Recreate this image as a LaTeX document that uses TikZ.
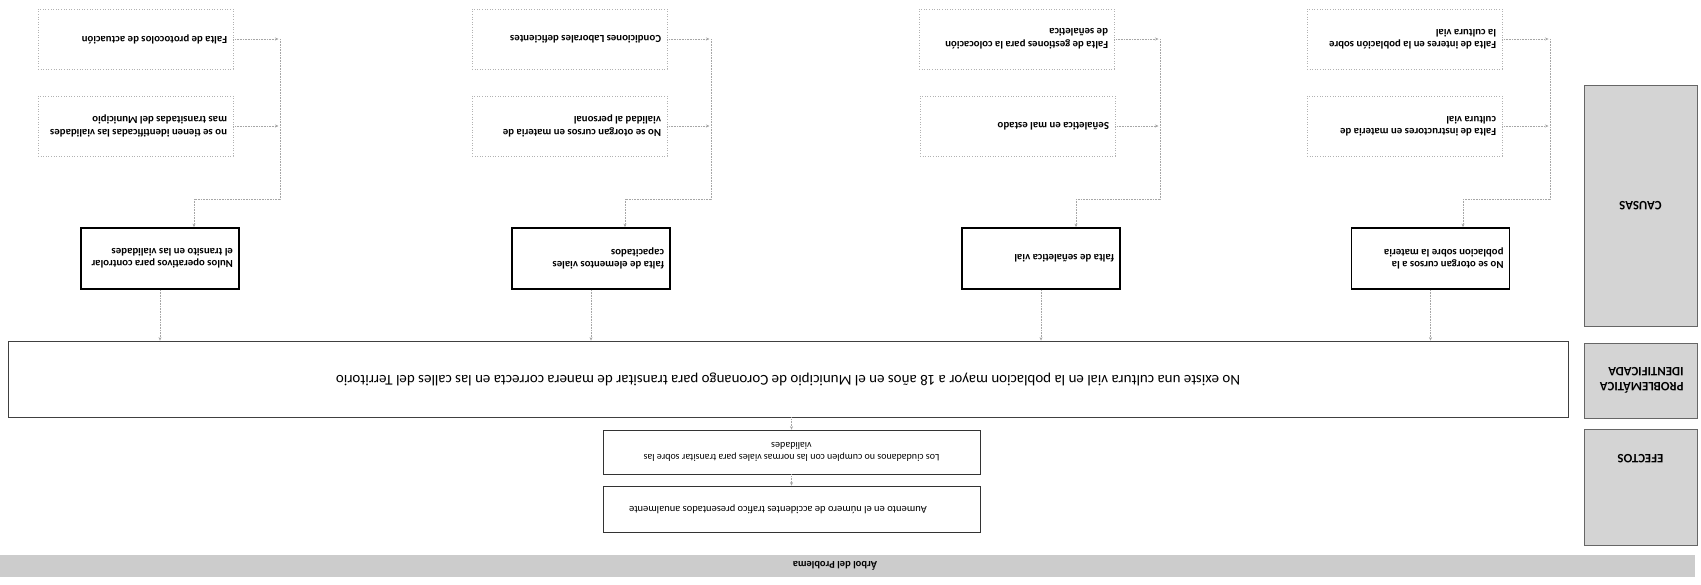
\documentclass[tikz,border=0pt]{standalone}
\usepackage{fontspec}
\setmainfont{Carlito}
\usetikzlibrary{arrows.meta}
\newcommand{\rtxt}[2]{\rotatebox[origin=c]{180}{\parbox{#1}{\raggedright #2}}}
\newcommand{\rone}[1]{\rotatebox[origin=c]{180}{#1}}
\begin{document}
\begin{tikzpicture}[x=1pt,y=-1pt,
  subbox/.style={draw=gray!60, dotted, line width=0.6pt, minimum width=195pt, minimum height=60pt, inner sep=0pt,
    font=\fontsize{10.8}{12.5}\selectfont\bfseries},
  causebox/.style={draw=black, line width=1.8pt, minimum width=158pt, minimum height=61pt, inner sep=0pt,
    font=\fontsize{10.8}{12}\selectfont\bfseries},
  probbox/.style={draw=black!75, line width=0.8pt, minimum width=1560pt, minimum height=76pt, inner sep=0pt,
    font=\fontsize{15}{16.5}\selectfont},
  effbox/.style={draw=black!80, line width=0.7pt, minimum width=377pt, inner sep=0pt,
    font=\fontsize{10}{12}\selectfont},
  labelbox/.style={draw=black!60, fill=gray!34, line width=0.8pt, minimum width=113pt, inner sep=0pt,
    font=\fontsize{12.8}{14.5}\selectfont\bfseries},
  conn/.style={draw=gray!70, densely dotted, line width=0.6pt},
  arr/.style={-{Stealth[length=3.5pt,width=3pt]}}
]
\useasboundingbox (0,0) rectangle (1701,584);
\fill[white] (0,0) rectangle (1701,584);

% title bar
\node[fill=gray!40, minimum width=1695pt, minimum height=22pt, inner sep=0pt] (title) at (847.5,566) {};
\node[font=\fontsize{10.5}{12}\selectfont\bfseries] (titletxt) at (835,566) {\rone{Árbol del Problema}};

% row labels
\node[labelbox, minimum height=241pt] (lcaus) at (1640.5,205.5) {\rone{CAUSAS}};
\node[labelbox, minimum height=75pt] (lprob) at (1640.5,380.5) {\rtxt{86pt}{PROBLEMÁTICA\\IDENTIFICADA}};
\node[labelbox, minimum height=116pt] (lefec) at (1640.5,487) {};
\node[font=\fontsize{12.8}{14.5}\selectfont\bfseries] (lefectxt) at (1640.5,459) {\rone{EFECTOS}};

% sub-causes
\node[subbox] (s11) at (135.5,39) {\rtxt{183pt}{Falta de protocolos de actuación}};
\node[subbox] (s12) at (135.5,126) {\rtxt{183pt}{no se tienen identificadas las vialidades\\mas transitadas del Municipio}};
\node[subbox] (s21) at (569.5,39) {\rtxt{183pt}{Condiciones Laborales deficientes}};
\node[subbox] (s22) at (569.5,126) {\rtxt{183pt}{No se otorgan cursos en materia de\\vialidad al personal}};
\node[subbox] (s31) at (1016.5,39) {\rtxt{183pt}{Falta de gestiones para la colocación\\de señaletica}};
\node[subbox] (s32) at (1017.5,126) {\rtxt{183pt}{Señaletica en mal estado}};
\node[subbox] (s41) at (1404.5,39) {\rtxt{183pt}{Falta de interes en la población sobre\\la cultura vial}};
\node[subbox] (s42) at (1404.5,126) {\rtxt{183pt}{Falta de instructores en materia de\\cultura vial}};

% causes
\node[causebox] (c1) at (160,258.5) {\rtxt{146pt}{Nulos operativos para controlar\\el transito en las vialidades}};
\node[causebox] (c2) at (591,258.5) {\rtxt{146pt}{falta de elementos viales\\capacitados}};
\node[causebox] (c3) at (1041,258.5) {\rtxt{146pt}{falta de señaletica vial}};
\node[causebox] (c4) at (1430.5,258.5) {\rtxt{146pt}{No se otorgan cursos a la\\poblacion sobre la materia}};

% problem
\node[probbox] (p) at (788,379) {\rone{No existe una cultura vial en la poblacion mayor a 18 años en el Municipio de Coronango para transitar de manera correcta en las calles del Territorio}};

% effects
\node[effbox, minimum height=44pt] (e1) at (791.5,452) {\rotatebox[origin=c]{180}{\parbox{360pt}{\centering Los ciudadanos no cumplen con las normas viales para transitar sobre las\\vialidades}}};
\node[effbox, minimum height=46pt] (e2) at (791.5,509) {};
\node[font=\fontsize{10.5}{12}\selectfont] (e2txt) at (778,509) {\rone{Aumento en el número de accidentes trafico presentados anualmente}};

% collectors
\coordinate (v1t) at (280,39);  \coordinate (v1b) at (280,199);  \coordinate (c1in) at (194,199);
\coordinate (v2t) at (711,39);  \coordinate (v2b) at (711,199);  \coordinate (c2in) at (625,199);
\coordinate (v3t) at (1160,39); \coordinate (v3b) at (1160,199); \coordinate (c3in) at (1076,199);
\coordinate (v4t) at (1550,39); \coordinate (v4b) at (1550,199); \coordinate (c4in) at (1463,199);

\foreach \g in {1,2,3,4}{
  \draw[conn,arr] (s\g1.east) -- ([xshift=-1.5pt]s\g1.east -| v\g t);
  \draw[conn,arr] (s\g2.east) -- ([xshift=-1.5pt]s\g2.east -| v\g t);
  \draw[conn] (v\g t) -- (v\g b) -- (c\g in);
  \draw[conn,arr] (c\g in) -- (c\g in |- c\g.north);
  \draw[conn,arr] (c\g.south) -- (c\g.south |- p.north);
}
\draw[conn,arr] (p.south -| e1.north) -- (e1.north);
\draw[conn,arr] (e1.south) -- (e2.north);
\end{tikzpicture}
\end{document}
